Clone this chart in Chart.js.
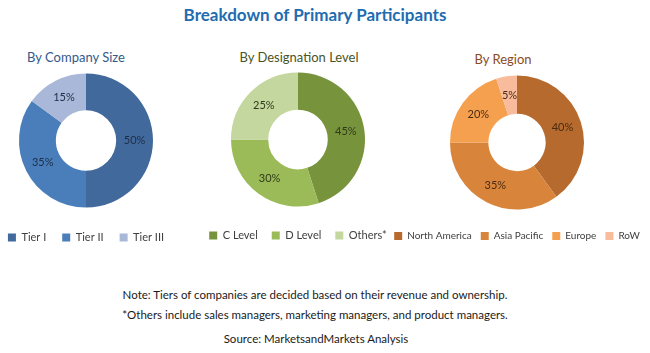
<!DOCTYPE html>
<html>
<head>
<meta charset="utf-8">
<script src="https://cdn.jsdelivr.net/npm/chart.js@4.4.1/dist/chart.umd.min.js"></script>
<style>
  body { margin: 0; background: #fff; width: 650px; height: 353px; position: relative; overflow: hidden; font-family: Lato, 'Open Sans', sans-serif; }
  .txt { position: absolute; white-space: nowrap; text-align: center; transform: translateX(-50%); }
  #title { left: 315px; top: 4px; font-size: 17px; font-weight: bold; color: #1f6cb0; }
  .sub { font-size: 13px; top: 49px; }
  .note { font-size: 11.5px; color: #1a1a1a; }
  canvas { position: absolute; }
</style>
</head>
<body>
<div id="title" class="txt">Breakdown of Primary Participants</div>
<div class="txt sub" style="left:76px; color:#33598c;">By Company Size</div>
<div class="txt sub" style="left:299px; color:#4a5426;">By Designation Level</div>
<div class="txt sub" style="left:503px; top:51px; color:#8a4b1d;">By Region</div>

<canvas id="sizeChart" style="left:-14px; top:65px;" width="200" height="188"></canvas>
<canvas id="desigChart" style="left:188px; top:63px;" width="220" height="188"></canvas>
<canvas id="regionChart" style="left:359px; top:63px;" width="316" height="188"></canvas>

<div class="txt note" style="left:315px; top:288px;">Note: Tiers of companies are decided based on their revenue and ownership.</div>
<div class="txt note" style="left:315px; top:308px;">*Others include sales managers, marketing managers, and product managers.</div>
<div class="txt note" style="left:316px; top:332px;">Source: MarketsandMarkets Analysis</div>

<script>
var sizeLabels = ['Tier I', 'Tier II', 'Tier III'];
var sizeValues = [50, 35, 15];
var desigLabels = ['C Level', 'D Level', 'Others*'];
var desigValues = [45, 30, 25];
var regionLabels = ['North America', 'Asia Pacific', 'Europe', 'RoW'];
var regionValues = [40, 35, 20, 5];

// percent labels in the middle of each slice
var pctLabels = {
  id: 'pctLabels',
  afterDatasetsDraw: function(chart, args, opts) {
    var ctx = chart.ctx;
    var meta = chart.getDatasetMeta(0);
    ctx.save();
    ctx.font = '11px Lato, "Open Sans", sans-serif';
    ctx.fillStyle = opts.color || '#333';
    ctx.textAlign = 'center';
    ctx.textBaseline = 'middle';
    meta.data.forEach(function(arc, i) {
      var p = arc.tooltipPosition();
      ctx.fillText(chart.data.datasets[0].data[i] + '%', p.x, p.y);
    });
    ctx.restore();
  }
};

function makeDonut(id, labels, values, colors, labelColor, legendPad, legendSize) {
  return new Chart(document.getElementById(id).getContext('2d'), {
    type: 'doughnut',
    data: {
      labels: labels,
      datasets: [{ data: values, backgroundColor: colors, borderWidth: 0 }]
    },
    options: {
      responsive: false,
      animation: false,
      radius: 67,
      cutout: 34,
      plugins: {
        legend: {
          position: 'bottom',
          labels: {
            boxWidth: 8, boxHeight: 8, padding: legendPad,
            color: '#404040',
            font: { family: 'Lato, "Open Sans", sans-serif', size: legendSize || 11 }
          }
        },
        tooltip: { enabled: false },
        pctLabels: { color: labelColor }
      }
    },
    plugins: [pctLabels]
  });
}

makeDonut('sizeChart', sizeLabels, sizeValues, ['#41699c', '#4a7ebb', '#a9b8d8'], '#1f2d45', 16);
makeDonut('desigChart', desigLabels, desigValues, ['#77933c', '#9bbb59', '#c4d79f'], '#2f3a1a', 14);
makeDonut('regionChart', regionLabels, regionValues, ['#b66a2e', '#d9843b', '#f5a04f', '#f8bc9c'], '#4a2a10', 9, 10);
</script>
</body>
</html>
